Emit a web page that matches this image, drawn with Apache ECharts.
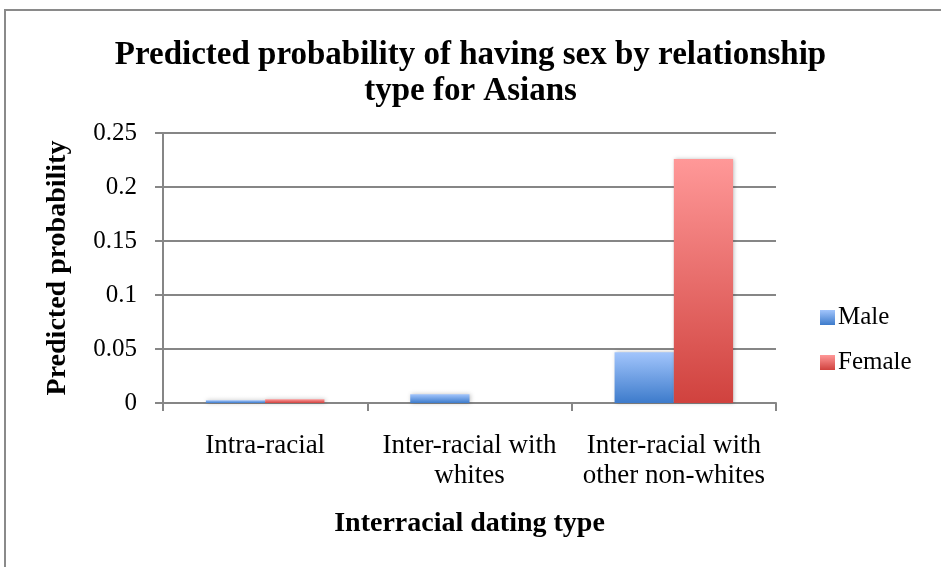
<!DOCTYPE html>
<html>
<head>
<meta charset="utf-8">
<script src="https://cdn.jsdelivr.net/npm/echarts@6/dist/echarts.min.js"></script>
<style>
  html, body { margin: 0; padding: 0; background: #fff; }
  #chart { width: 941px; height: 567px; }
</style>
</head>
<body>
<div id="chart"></div>
<script>
// Predicted probability by relationship type, split by sex
const categories = ['Intra-racial', 'Inter-racial with\nwhites', 'Inter-racial with\nother non-whites'];
const maleValues = [0.0025, 0.008, 0.047];
const femaleValues = [0.0034, 0, 0.226];
const yTicks = [0, 0.05, 0.1, 0.15, 0.2, 0.25];

const FONT = '"Liberation Serif", "DejaVu Serif", serif';
const GRID_COLOR = '#868686';

function vGrad(top, bottom) {
  return new echarts.graphic.LinearGradient(0, 0, 0, 1, [
    { offset: 0, color: top },
    { offset: 1, color: bottom }
  ]);
}

const chart = echarts.init(document.getElementById('chart'), null, { renderer: 'canvas' });

chart.setOption({
  backgroundColor: '#ffffff',
  animation: false,
  graphic: [{
    type: 'rect',
    shape: { x: 5, y: 10, width: 1000, height: 1000 },
    style: { fill: 'none', stroke: '#8a8a8a', lineWidth: 2 },
    silent: true
  }],
  title: {
    text: 'Predicted probability of having sex by relationship\ntype for Asians',
    left: 'center',
    top: 32,
    textStyle: {
      fontFamily: FONT,
      fontWeight: 'bold',
      fontSize: 33,
      lineHeight: 36,
      color: '#000'
    }
  },
  legend: {
    orient: 'vertical',
    left: 815,
    top: 300,
    itemWidth: 15,
    itemHeight: 15,
    itemGap: 20,
    icon: 'rect',
    textStyle: { fontFamily: FONT, fontSize: 25, color: '#000', padding: [0, 0, 0, -2] },
    data: ['Male', 'Female']
  },
  grid: { left: 163, top: 133, right: 165, bottom: 164, containLabel: false },
  xAxis: {
    type: 'category',
    data: categories,
    name: 'Interracial dating type',
    nameLocation: 'middle',
    nameGap: 107,
    nameTextStyle: { fontFamily: FONT, fontWeight: 'bold', fontSize: 28, color: '#000' },
    axisLine: { lineStyle: { color: GRID_COLOR, width: 2 } },
    axisTick: { show: true, length: 8, lineStyle: { color: GRID_COLOR, width: 2 }, alignWithLabel: false },
    axisLabel: { fontFamily: FONT, fontSize: 27, color: '#000', margin: 28, lineHeight: 30, interval: 0 }
  },
  yAxis: {
    type: 'value',
    min: yTicks[0],
    max: yTicks[yTicks.length - 1],
    interval: 0.05,
    name: 'Predicted probability',
    nameLocation: 'middle',
    nameGap: 91,
    nameTextStyle: { fontFamily: FONT, fontWeight: 'bold', fontSize: 28, color: '#000' },
    axisLine: { show: true, lineStyle: { color: GRID_COLOR, width: 2 } },
    axisTick: { show: true, length: 8, lineStyle: { color: GRID_COLOR, width: 2 } },
    axisLabel: {
      fontFamily: FONT, fontSize: 25, color: '#000', margin: 26,
      formatter: v => String(parseFloat(v.toFixed(2)))
    },
    splitLine: { show: true, lineStyle: { color: GRID_COLOR, width: 2 } }
  },
  series: [
    {
      name: 'Male',
      type: 'bar',
      data: maleValues,
      barGap: '0%',
      barCategoryGap: '42%',
      itemStyle: {
        color: vGrad('#a2c5fc', '#3d7bcb'),
        shadowBlur: 4,
        shadowColor: 'rgba(0,0,0,0.25)',
        shadowOffsetX: 1
      }
    },
    {
      name: 'Female',
      type: 'bar',
      data: femaleValues,
      barGap: '0%',
      barCategoryGap: '42%',
      itemStyle: {
        color: vGrad('#ff9898', '#d0423e'),
        shadowBlur: 4,
        shadowColor: 'rgba(0,0,0,0.25)',
        shadowOffsetX: 1
      }
    }
  ]
});
</script>
</body>
</html>
